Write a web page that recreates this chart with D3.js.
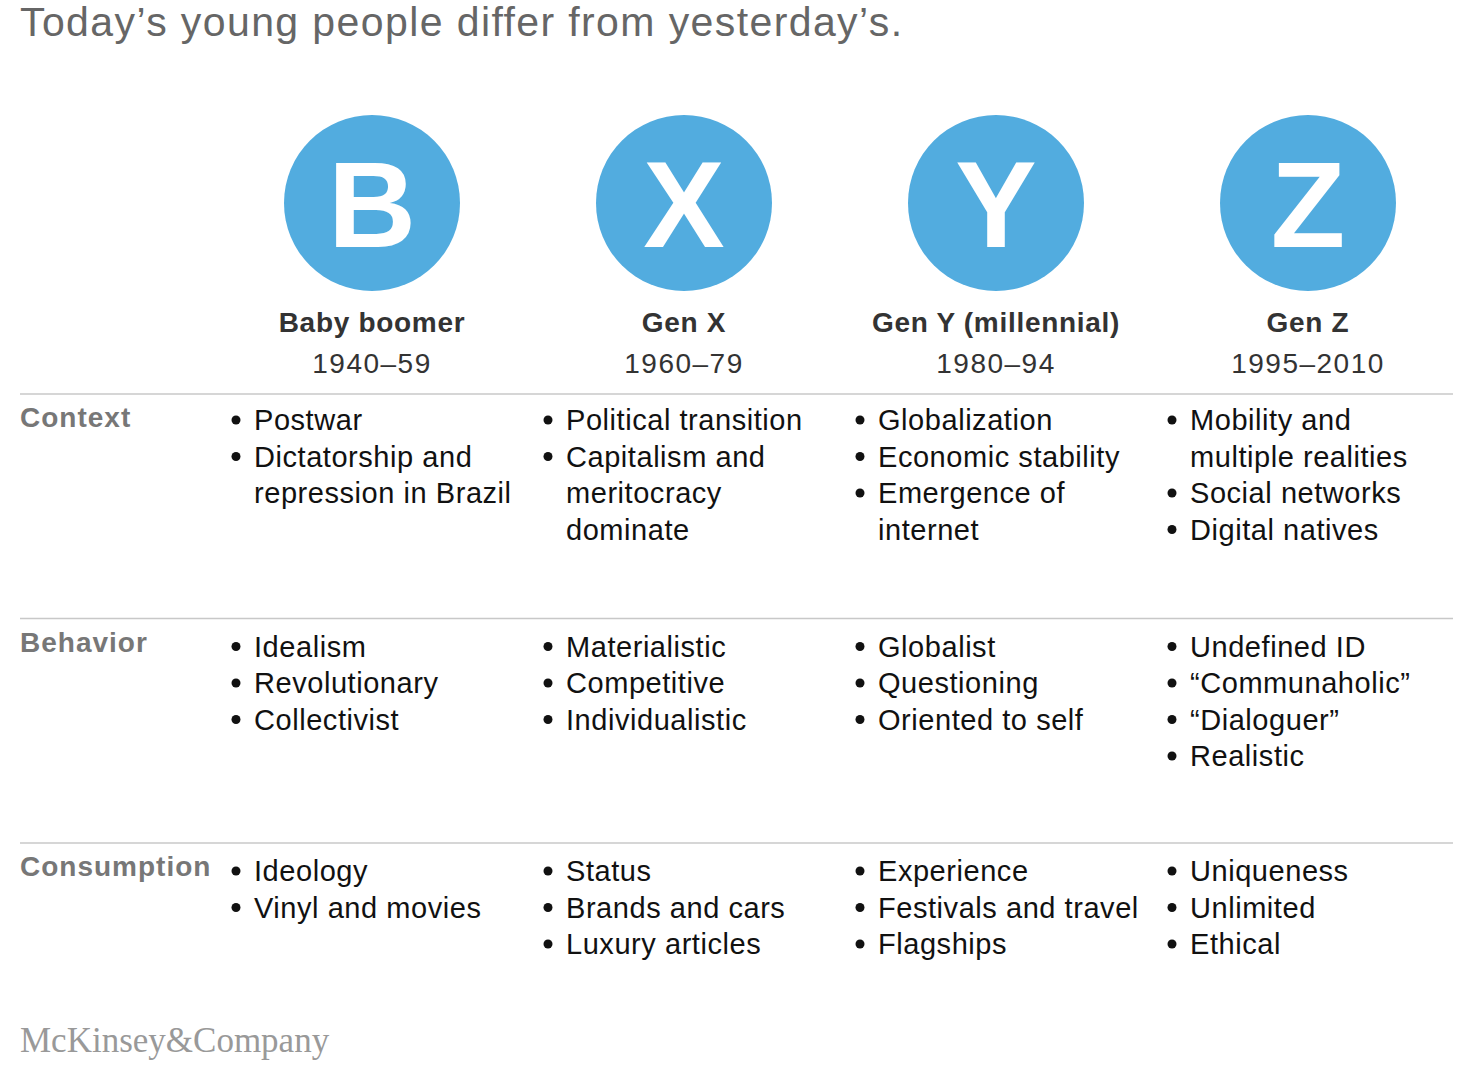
<!DOCTYPE html>
<html><head><meta charset="utf-8">
<script src="https://cdn.jsdelivr.net/npm/d3@7"></script>
<style>body{margin:0;background:#fff}</style>
</head><body>
<svg width="1476" height="1072"></svg>
<script>
var letters = ["B", "X", "Y", "Z"];
var generations = ["Baby boomer", "Gen X", "Gen Y (millennial)", "Gen Z"];
var years = ["1940–59", "1960–79", "1980–94", "1995–2010"];
var rows = ["Context", "Behavior", "Consumption"];
var context = [
	[["Postwar"], ["Dictatorship and", "repression in Brazil"]],
	[["Political transition"], ["Capitalism and", "meritocracy", "dominate"]],
	[["Globalization"], ["Economic stability"], ["Emergence of", "internet"]],
	[["Mobility and", "multiple realities"], ["Social networks"], ["Digital natives"]]
];
var behavior = [
	[["Idealism"], ["Revolutionary"], ["Collectivist"]],
	[["Materialistic"], ["Competitive"], ["Individualistic"]],
	[["Globalist"], ["Questioning"], ["Oriented to self"]],
	[["Undefined ID"], ["“Communaholic”"], ["“Dialoguer”"], ["Realistic"]]
];
var consumption = [
	[["Ideology"], ["Vinyl and movies"]],
	[["Status"], ["Brands and cars"], ["Luxury articles"]],
	[["Experience"], ["Festivals and travel"], ["Flagships"]],
	[["Uniqueness"], ["Unlimited"], ["Ethical"]]
];
var cells = [context, behavior, consumption];

var svg = d3.select("svg");
var font = "'Liberation Sans', Arial, sans-serif";
var x = d3.scaleBand().domain(letters).range([216, 1464]);
var rowY = d3.scalePoint().domain(rows).range([394, 843]);
var lineH = 36.5;

svg.append("text").attr("x", 20).attr("y", 36).attr("font-family", font)
	.attr("font-size", 41).attr("letter-spacing", 1.4).attr("fill", "#666")
	.text("Today’s young people differ from yesterday’s.");

var col = svg.selectAll("g.col").data(letters).enter().append("g")
	.attr("transform", function (d) { return "translate(" + (x(d) + x.bandwidth() / 2) + ",0)"; });
col.append("circle").attr("cy", 203).attr("r", 88).attr("fill", "#52ACDF");
col.append("text").attr("y", 247).attr("text-anchor", "middle").attr("font-family", font)
	.attr("font-weight", "bold").attr("font-size", 122).attr("fill", "#fff").text(function (d) { return d; });
col.append("text").attr("y", 332).attr("text-anchor", "middle").attr("font-family", font)
	.attr("font-weight", "bold").attr("font-size", 28).attr("letter-spacing", 0.7).attr("fill", "#333")
	.text(function (d, i) { return generations[i]; });
col.append("text").attr("y", 373).attr("text-anchor", "middle").attr("font-family", font)
	.attr("font-size", 28).attr("letter-spacing", 1.5).attr("fill", "#333").text(function (d, i) { return years[i]; });

rows.forEach(function (r, ri) {
	var y0 = rowY(r);
	svg.append("line").attr("x1", 20).attr("x2", 1453).attr("y1", y0).attr("y2", y0)
		.attr("stroke", "#c8c8c8").attr("stroke-width", 1.5);
	svg.append("text").attr("x", 20).attr("y", y0 + 33).attr("font-family", font)
		.attr("font-weight", "bold").attr("font-size", 28).attr("letter-spacing", 1).attr("fill", "#777").text(r);
	cells[ri].forEach(function (items, ci) {
		var cx = x(letters[ci]), n = 0;
		items.forEach(function (lines) {
			lines.forEach(function (t, li) {
				var y = y0 + 36 + (ri > 0 ? 2 : 0) + n * lineH;
				if (li == 0) svg.append("circle").attr("cx", cx + 20).attr("cy", y - 10)
					.attr("r", 4.5).attr("fill", "#111");
				svg.append("text").attr("x", cx + 38).attr("y", y).attr("font-family", font)
					.attr("font-size", 29).attr("letter-spacing", 0.55).attr("fill", "#111").text(t);
				n++;
			});
		});
	});
});

svg.append("text").attr("x", 20).attr("y", 1052).attr("font-family", "'Liberation Serif', serif")
	.attr("font-size", 35).attr("fill", "#999").text("McKinsey&Company");
</script>
</body></html>
